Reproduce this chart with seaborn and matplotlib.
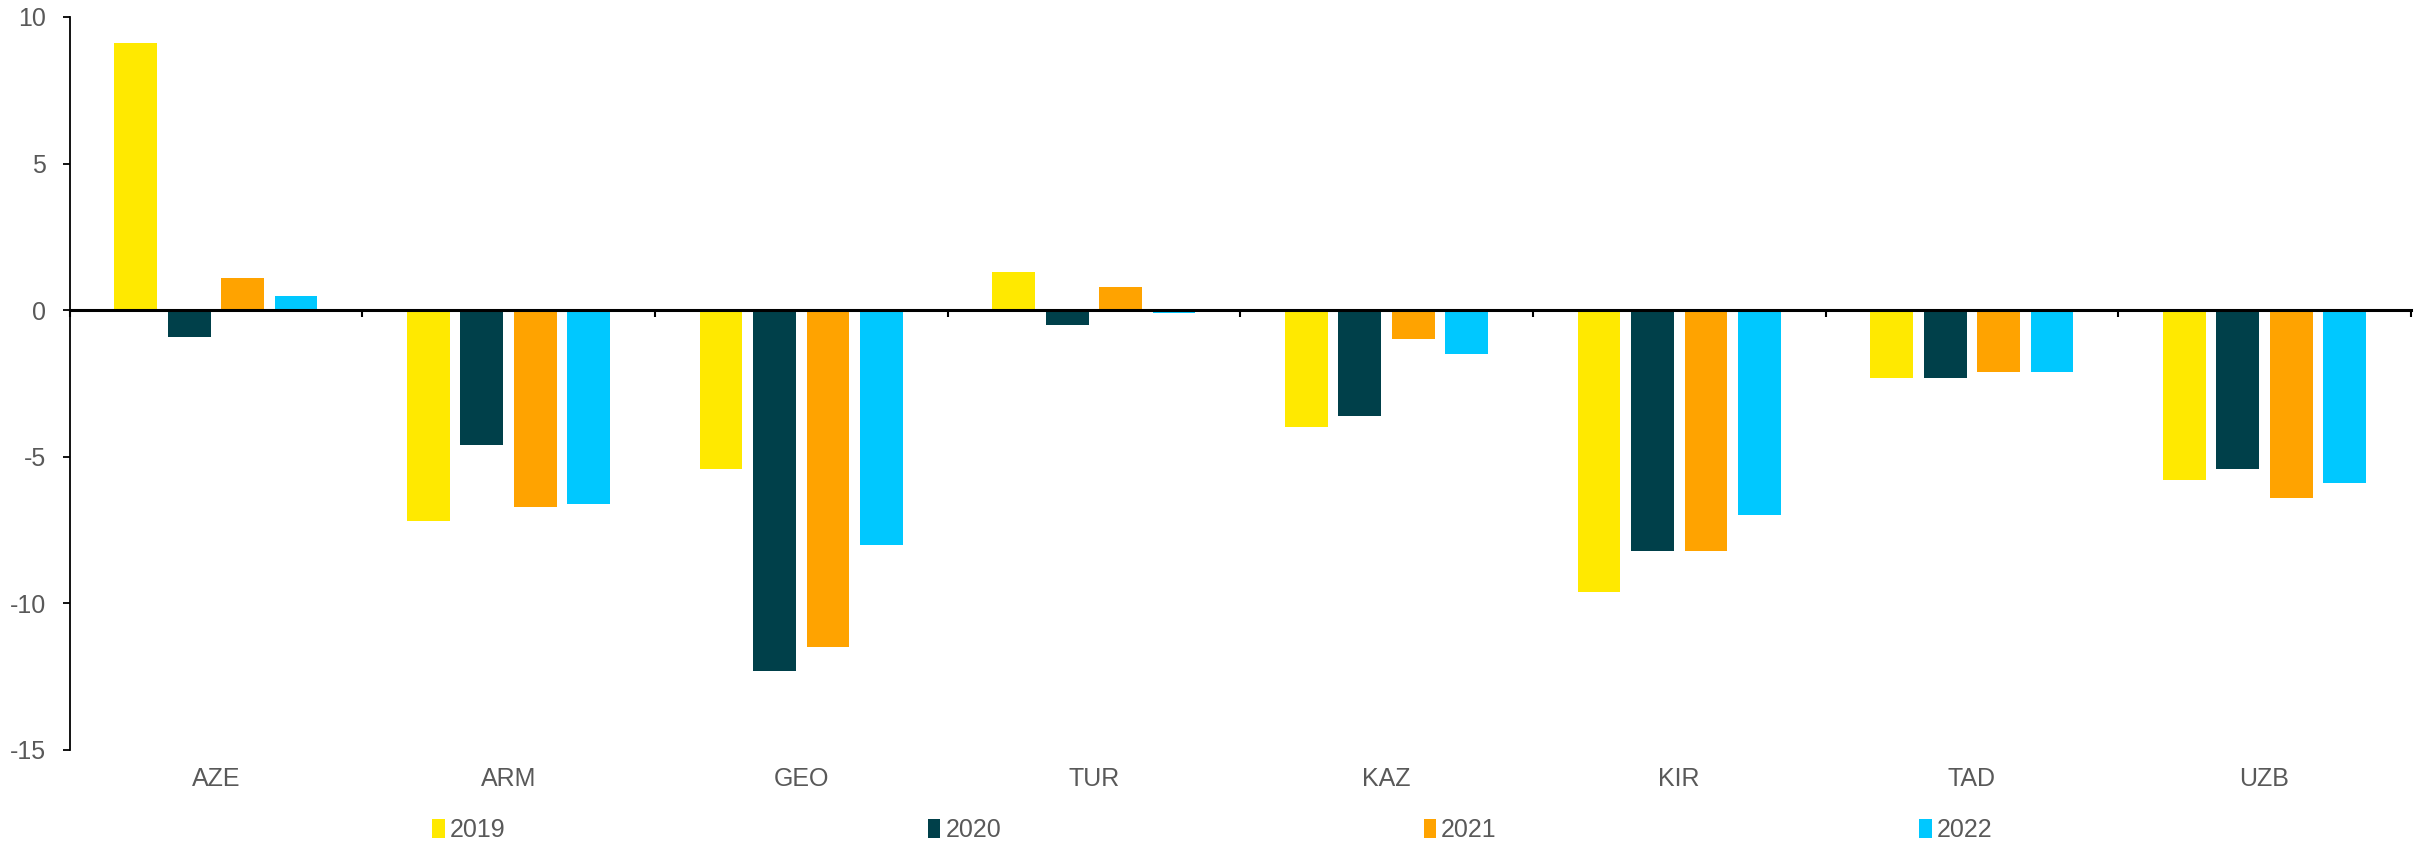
import pandas as pd
import seaborn as sns
import matplotlib.pyplot as plt
import matplotlib.transforms as mtransforms
import numpy as np

# Data
countries = ["AZE", "ARM", "GEO", "TUR", "KAZ", "KIR", "TAD", "UZB"]
years = ["2019", "2020", "2021", "2022"]
v2019 = [9.1, -7.2, -5.4, 1.3, -4.0, -9.6, -2.3, -5.8]
v2020 = [-0.9, -4.6, -12.3, -0.5, -3.6, -8.2, -2.3, -5.4]
v2021 = [1.1, -6.7, -11.5, 0.8, -1.0, -8.2, -2.1, -6.4]
v2022 = [0.5, -6.6, -8.0, -0.1, -1.5, -7.0, -2.1, -5.9]
colors = ["#FFE900", "#00404A", "#FFA300", "#00C8FF"]

# long-form table for seaborn
df = pd.DataFrame({
    "country": countries * 4,
    "year": np.repeat(years, len(countries)),
    "value": v2019 + v2020 + v2021 + v2022,
})

sns.set_style("white")
plt.rcParams["font.family"] = ["Liberation Sans", "DejaVu Sans"]
plt.rcParams["axes.unicode_minus"] = False
grey = "#595959"

fig = plt.figure(figsize=(24.23, 8.44), dpi=100)
ax = fig.add_axes([0.0287, 0.1114, 0.9663, 0.8685])

sns.barplot(data=df, x="country", y="value", hue="year", order=countries,
            hue_order=years, palette=colors, saturation=1, width=0.73,
            gap=0.2, linewidth=0, ax=ax)

handles, labels = ax.get_legend_handles_labels()
ax.get_legend().remove()

ax.set_ylim(-15, 10)
ax.set_xlim(-0.5, len(countries) - 0.5)
ax.set_yticks([-15, -10, -5, 0, 5, 10])
ax.set_xlabel("")
ax.set_ylabel("")

# axis line at zero with ticks between categories
for side in ["top", "right"]:
    ax.spines[side].set_visible(False)
ax.spines["bottom"].set_position(("data", 0))
ax.spines["bottom"].set_color("black")
ax.spines["bottom"].set_linewidth(2.2)
ax.spines["left"].set_color("black")
ax.spines["left"].set_linewidth(1.3)

ax.set_xticks(np.arange(len(countries)))
ax.set_xticklabels([])
ax.tick_params(axis="x", which="major", length=0)
ax.set_xticks(np.arange(len(countries) + 1) - 0.5, minor=True)
ax.tick_params(axis="x", which="minor", direction="out", length=5, width=1.5,
               color="black", bottom=True)
ax.tick_params(axis="y", direction="out", length=5, width=1.3, color="black",
               left=True, labelsize=18, labelcolor=grey, pad=12)

# category names sit under the plot area
trans = mtransforms.blended_transform_factory(ax.transData, ax.transAxes)
for i, name in enumerate(countries):
    ax.text(i, -0.04, name, transform=trans, ha="center", va="center",
            fontsize=18, color=grey)

leg = fig.legend(handles, labels, loc="center", bbox_to_anchor=(0.5003, 0.016),
                 ncol=4, frameon=False, fontsize=18, handlelength=0.5,
                 handleheight=0.8, handletextpad=0.2, columnspacing=16.9,
                 borderpad=0)
for t in leg.get_texts():
    t.set_color(grey)

fig.savefig("out.png", dpi=100)
